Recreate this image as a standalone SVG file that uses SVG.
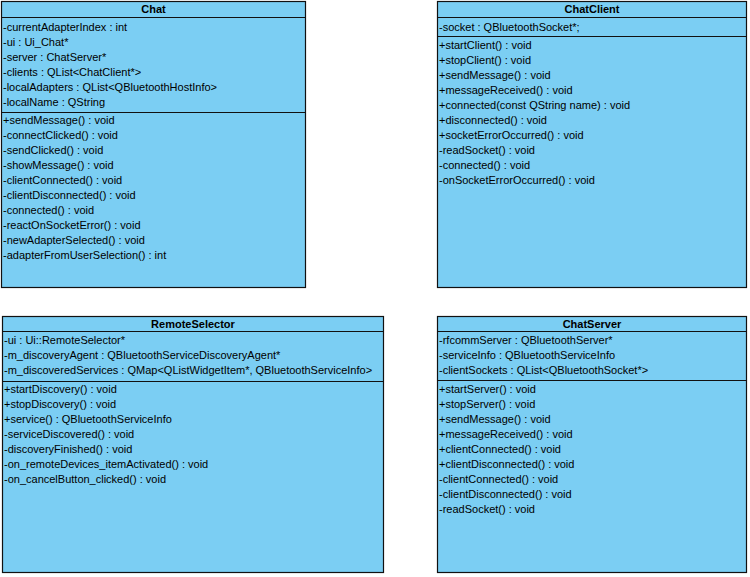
<svg xmlns="http://www.w3.org/2000/svg" width="750" height="577" viewBox="0 0 750 577">
<style>
.box{fill:#7bcef3;stroke:#111;stroke-width:1.2}
.sep{stroke:#111;stroke-width:1}
text{font-family:"Liberation Sans",Arial,sans-serif;font-size:11px;fill:#000}
.h{font-weight:bold;text-anchor:middle}
</style>
<rect width="750" height="577" fill="#fff"/>
<g id="Chat">
<rect class="box" x="1.5" y="1.5" width="304" height="286"/>
<line class="sep" x1="1.5" y1="17.5" x2="305.5" y2="17.5"/>
<line class="sep" x1="1.5" y1="112.5" x2="305.5" y2="112.5"/>
<text class="h" x="153.5" y="13">Chat</text>
<text x="3" y="31">-currentAdapterIndex : int</text>
<text x="3" y="46">-ui : Ui_Chat*</text>
<text x="3" y="61">-server : ChatServer*</text>
<text x="3" y="76">-clients : QList&lt;ChatClient*&gt;</text>
<text x="3" y="91">-localAdapters : QList&lt;QBluetoothHostInfo&gt;</text>
<text x="3" y="106">-localName : QString</text>
<text x="3" y="124">+sendMessage() : void</text>
<text x="3" y="139">-connectClicked() : void</text>
<text x="3" y="154">-sendClicked() : void</text>
<text x="3" y="169">-showMessage() : void</text>
<text x="3" y="184">-clientConnected() : void</text>
<text x="3" y="199">-clientDisconnected() : void</text>
<text x="3" y="214">-connected() : void</text>
<text x="3" y="229">-reactOnSocketError() : void</text>
<text x="3" y="244">-newAdapterSelected() : void</text>
<text x="3" y="259">-adapterFromUserSelection() : int</text>
</g>
<g id="ChatClient">
<rect class="box" x="437.5" y="1.5" width="309" height="286"/>
<line class="sep" x1="437.5" y1="17.5" x2="746.5" y2="17.5"/>
<line class="sep" x1="437.5" y1="36.5" x2="746.5" y2="36.5"/>
<text class="h" x="592" y="13">ChatClient</text>
<text x="439" y="31">-socket : QBluetoothSocket*;</text>
<text x="439" y="49">+startClient() : void</text>
<text x="439" y="64">+stopClient() : void</text>
<text x="439" y="79">+sendMessage() : void</text>
<text x="439" y="94">+messageReceived() : void</text>
<text x="439" y="109">+connected(const QString name) : void</text>
<text x="439" y="124">+disconnected() : void</text>
<text x="439" y="139">+socketErrorOccurred() : void</text>
<text x="439" y="154">-readSocket() : void</text>
<text x="439" y="169">-connected() : void</text>
<text x="439" y="184">-onSocketErrorOccurred() : void</text>
</g>
<g id="RemoteSelector">
<rect class="box" x="2.5" y="316.5" width="381" height="256"/>
<line class="sep" x1="2.5" y1="331.5" x2="383.5" y2="331.5"/>
<line class="sep" x1="2.5" y1="381.5" x2="383.5" y2="381.5"/>
<text class="h" x="193" y="328">RemoteSelector</text>
<text x="4" y="344">-ui : Ui::RemoteSelector*</text>
<text x="4" y="359">-m_discoveryAgent : QBluetoothServiceDiscoveryAgent*</text>
<text x="4" y="374">-m_discoveredServices : QMap&lt;QListWidgetItem*, QBluetoothServiceInfo&gt;</text>
<text x="4" y="393">+startDiscovery() : void</text>
<text x="4" y="408">+stopDiscovery() : void</text>
<text x="4" y="423">+service() : QBluetoothServiceInfo</text>
<text x="4" y="438">-serviceDiscovered() : void</text>
<text x="4" y="453">-discoveryFinished() : void</text>
<text x="4" y="468">-on_remoteDevices_itemActivated() : void</text>
<text x="4" y="483">-on_cancelButton_clicked() : void</text>
</g>
<g id="ChatServer">
<rect class="box" x="437.5" y="316.5" width="309" height="256"/>
<line class="sep" x1="437.5" y1="331.5" x2="746.5" y2="331.5"/>
<line class="sep" x1="437.5" y1="380.5" x2="746.5" y2="380.5"/>
<text class="h" x="592" y="328">ChatServer</text>
<text x="439" y="344">-rfcommServer : QBluetoothServer*</text>
<text x="439" y="359">-serviceInfo : QBluetoothServiceInfo</text>
<text x="439" y="374">-clientSockets : QList&lt;QBluetoothSocket*&gt;</text>
<text x="439" y="393">+startServer() : void</text>
<text x="439" y="408">+stopServer() : void</text>
<text x="439" y="423">+sendMessage() : void</text>
<text x="439" y="438">+messageReceived() : void</text>
<text x="439" y="453">+clientConnected() : void</text>
<text x="439" y="468">+clientDisconnected() : void</text>
<text x="439" y="483">-clientConnected() : void</text>
<text x="439" y="498">-clientDisconnected() : void</text>
<text x="439" y="513">-readSocket() : void</text>
</g>
<g id="connectors"></g>
</svg>
